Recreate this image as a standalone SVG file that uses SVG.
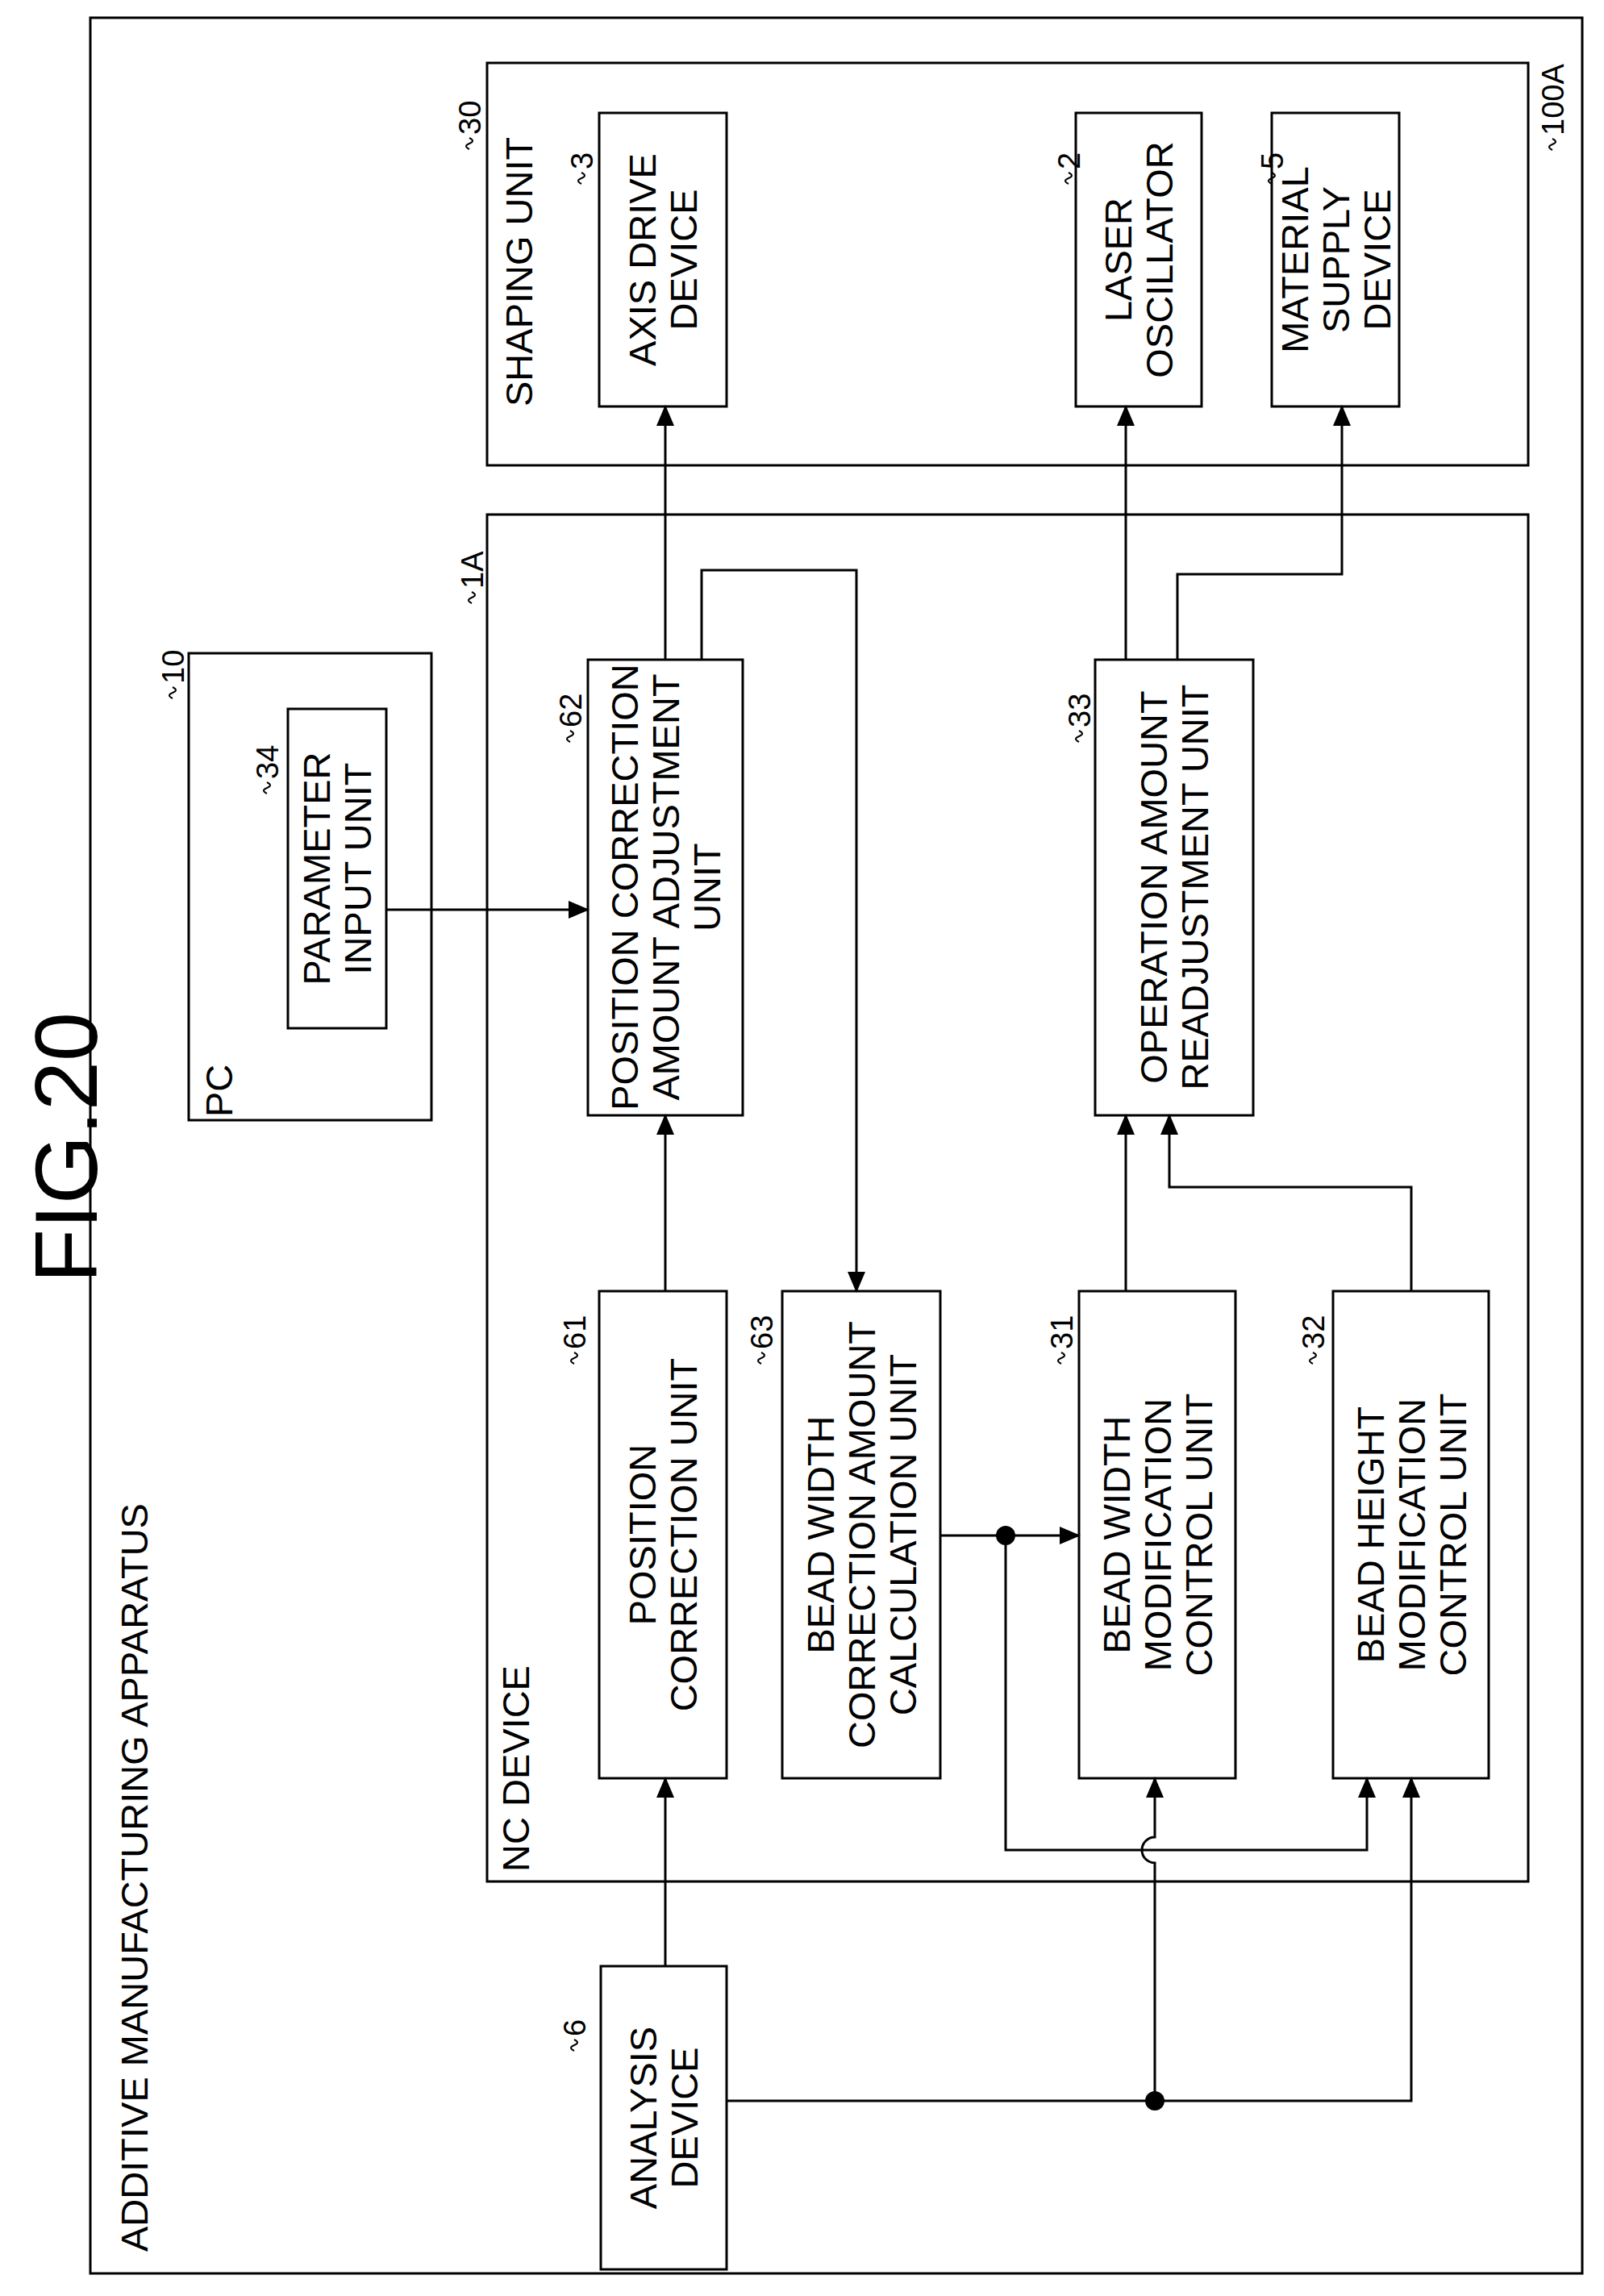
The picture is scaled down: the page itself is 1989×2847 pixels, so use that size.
<svg xmlns="http://www.w3.org/2000/svg" width="1989" height="2847" viewBox="0 0 1989 2847">
<style>
rect{fill:none;stroke:#000;stroke-width:3}
.c path,.c line{fill:none;stroke:#000;stroke-width:3}
text{font-family:"Liberation Sans",Arial,sans-serif;font-size:47px;fill:#000}
.m{text-anchor:middle}
.lb{font-size:38px}
.sq{fill:none;stroke:#000;stroke-width:2}
</style>
<defs>
<marker id="a" markerUnits="userSpaceOnUse" markerWidth="26" markerHeight="22" refX="24" refY="11" orient="auto"><path d="M0,0 L26,11 L0,22 Z" fill="#000"/></marker>
</defs>
<rect fill="#fff" x="0" y="0" width="1989" height="2847" style="fill:#fff;stroke:none"/>
<text transform="translate(120,1423) rotate(-90)" class="m" style="font-size:110px">FIG.20</text>
<g id="outer"><rect x="112" y="22" width="1850" height="2797"/>
<text transform="translate(183,2792) rotate(-90)">ADDITIVE MANUFACTURING APPARATUS</text></g>
<g id="shaping"><rect x="604" y="78" width="1291" height="499"/>
<text transform="translate(660,504) rotate(-90)">SHAPING UNIT</text></g>
<g id="nc"><rect x="604" y="638" width="1291" height="1695"/>
<text transform="translate(656,2321) rotate(-90)">NC DEVICE</text></g>
<g id="pc"><rect x="234" y="810" width="301" height="579"/>
<text transform="translate(288,1385) rotate(-90)">PC</text></g>
<g id="axis"><rect x="743" y="140" width="158" height="364"/>
<text transform="translate(822,322) rotate(-90)" class="m"><tspan x="0" y="-9">AXIS DRIVE</tspan><tspan x="0" y="42">DEVICE</tspan></text></g>
<g id="laser"><rect x="1334" y="140" width="156" height="364"/>
<text transform="translate(1412,322) rotate(-90)" class="m"><tspan x="0" y="-9">LASER</tspan><tspan x="0" y="42">OSCILLATOR</tspan></text></g>
<g id="material"><rect x="1577" y="140" width="158" height="364"/>
<text transform="translate(1656,322) rotate(-90)" class="m"><tspan x="0" y="-34">MATERIAL</tspan><tspan x="0" y="17">SUPPLY</tspan><tspan x="0" y="68">DEVICE</tspan></text></g>
<g id="param"><rect x="357" y="879" width="122" height="396"/>
<text transform="translate(418,1077) rotate(-90)" class="m"><tspan x="0" y="-9">PARAMETER</tspan><tspan x="0" y="42">INPUT UNIT</tspan></text></g>
<g id="pcaau"><rect x="729" y="818" width="192" height="565"/>
<text transform="translate(825,1100) rotate(-90)" class="m"><tspan x="0" y="-34">POSITION CORRECTION</tspan><tspan x="0" y="17">AMOUNT ADJUSTMENT</tspan><tspan x="0" y="68">UNIT</tspan></text></g>
<g id="oru"><rect x="1358" y="818" width="196" height="565"/>
<text transform="translate(1456,1100) rotate(-90)" class="m"><tspan x="0" y="-9">OPERATION AMOUNT</tspan><tspan x="0" y="42">READJUSTMENT UNIT</tspan></text></g>
<g id="pcu"><rect x="743" y="1601" width="158" height="604"/>
<text transform="translate(822,1903) rotate(-90)" class="m"><tspan x="0" y="-9">POSITION</tspan><tspan x="0" y="42">CORRECTION UNIT</tspan></text></g>
<g id="bwc"><rect x="970" y="1601" width="196" height="604"/>
<text transform="translate(1068,1903) rotate(-90)" class="m"><tspan x="0" y="-34">BEAD WIDTH</tspan><tspan x="0" y="17">CORRECTION AMOUNT</tspan><tspan x="0" y="68">CALCULATION UNIT</tspan></text></g>
<g id="bwm"><rect x="1338" y="1601" width="194" height="604"/>
<text transform="translate(1435,1903) rotate(-90)" class="m"><tspan x="0" y="-34">BEAD WIDTH</tspan><tspan x="0" y="17">MODIFICATION</tspan><tspan x="0" y="68">CONTROL UNIT</tspan></text></g>
<g id="bhm"><rect x="1653" y="1601" width="193" height="604"/>
<text transform="translate(1750,1903) rotate(-90)" class="m"><tspan x="0" y="-34">BEAD HEIGHT</tspan><tspan x="0" y="17">MODIFICATION</tspan><tspan x="0" y="68">CONTROL UNIT</tspan></text></g>
<g id="analysis"><rect x="745" y="2438" width="156" height="376"/>
<text transform="translate(823,2626) rotate(-90)" class="m"><tspan x="0" y="-9">ANALYSIS</tspan><tspan x="0" y="42">DEVICE</tspan></text></g>
<g id="label100A">
<path class="sq" d="M1925,186 q-8,-4 0,-7 q8,-3 0,-7"/><text class="lb" transform="translate(1939,168) rotate(-90)">100A</text>
</g>
<g id="labels" transform="translate(-13,0)">
<path class="sq" d="M595,185 q-8,-4 0,-7 q8,-3 0,-7"/><text class="lb" transform="translate(609,167) rotate(-90)">30</text>
<path class="sq" d="M734,228 q-8,-4 0,-7 q8,-3 0,-7"/><text class="lb" transform="translate(748,210) rotate(-90)">3</text>
<path class="sq" d="M1338,228 q-8,-4 0,-7 q8,-3 0,-7"/><text class="lb" transform="translate(1352,210) rotate(-90)">2</text>
<path class="sq" d="M1590,228 q-8,-4 0,-7 q8,-3 0,-7"/><text class="lb" transform="translate(1604,210) rotate(-90)">5</text>
<path class="sq" d="M598,748 q-8,-4 0,-7 q8,-3 0,-7"/><text class="lb" transform="translate(612,730) rotate(-90)">1A</text>
<path class="sq" d="M227,866 q-8,-4 0,-7 q8,-3 0,-7"/><text class="lb" transform="translate(241,848) rotate(-90)">10</text>
<path class="sq" d="M344,984 q-8,-4 0,-7 q8,-3 0,-7"/><text class="lb" transform="translate(358,966) rotate(-90)">34</text>
<path class="sq" d="M720,920 q-8,-4 0,-7 q8,-3 0,-7"/><text class="lb" transform="translate(734,902) rotate(-90)">62</text>
<path class="sq" d="M1351,920 q-8,-4 0,-7 q8,-3 0,-7"/><text class="lb" transform="translate(1365,902) rotate(-90)">33</text>
<path class="sq" d="M725,1691 q-8,-4 0,-7 q8,-3 0,-7"/><text class="lb" transform="translate(739,1673) rotate(-90)">61</text>
<path class="sq" d="M957,1691 q-8,-4 0,-7 q8,-3 0,-7"/><text class="lb" transform="translate(971,1673) rotate(-90)">63</text>
<path class="sq" d="M1329,1691 q-8,-4 0,-7 q8,-3 0,-7"/><text class="lb" transform="translate(1343,1673) rotate(-90)">31</text>
<path class="sq" d="M1641,1691 q-8,-4 0,-7 q8,-3 0,-7"/><text class="lb" transform="translate(1655,1673) rotate(-90)">32</text>
<path class="sq" d="M725,2543 q-8,-4 0,-7 q8,-3 0,-7"/><text class="lb" transform="translate(739,2525) rotate(-90)">6</text>
</g>
<g id="connectors" class="c">
<path d="M825,1601 V1383" marker-end="url(#a)"/>
<path d="M825,818 V504" marker-end="url(#a)"/>
<path d="M870,818 V707 H1062 V1601" marker-end="url(#a)"/>
<path d="M479,1128 H729" marker-end="url(#a)"/>
<path d="M1166,1904 H1338" marker-end="url(#a)"/>
<path d="M1247,1904 V2294 H1695 V2205" marker-end="url(#a)"/>
<path d="M825,2438 V2205" marker-end="url(#a)"/>
<path d="M901,2605 H1750 V2205" marker-end="url(#a)"/>
<path d="M1432,2605 V2310 A16,16 0 0 1 1432,2278 V2205" marker-end="url(#a)"/>
<path d="M1396,1601 V1383" marker-end="url(#a)"/>
<path d="M1750,1601 V1472 H1450 V1383" marker-end="url(#a)"/>
<path d="M1396,818 V504" marker-end="url(#a)"/>
<path d="M1460,818 V712 H1664 V504" marker-end="url(#a)"/>
<circle cx="1247" cy="1904" r="12" fill="#000"/>
<circle cx="1432" cy="2605" r="12" fill="#000"/>
</g>
</svg>
